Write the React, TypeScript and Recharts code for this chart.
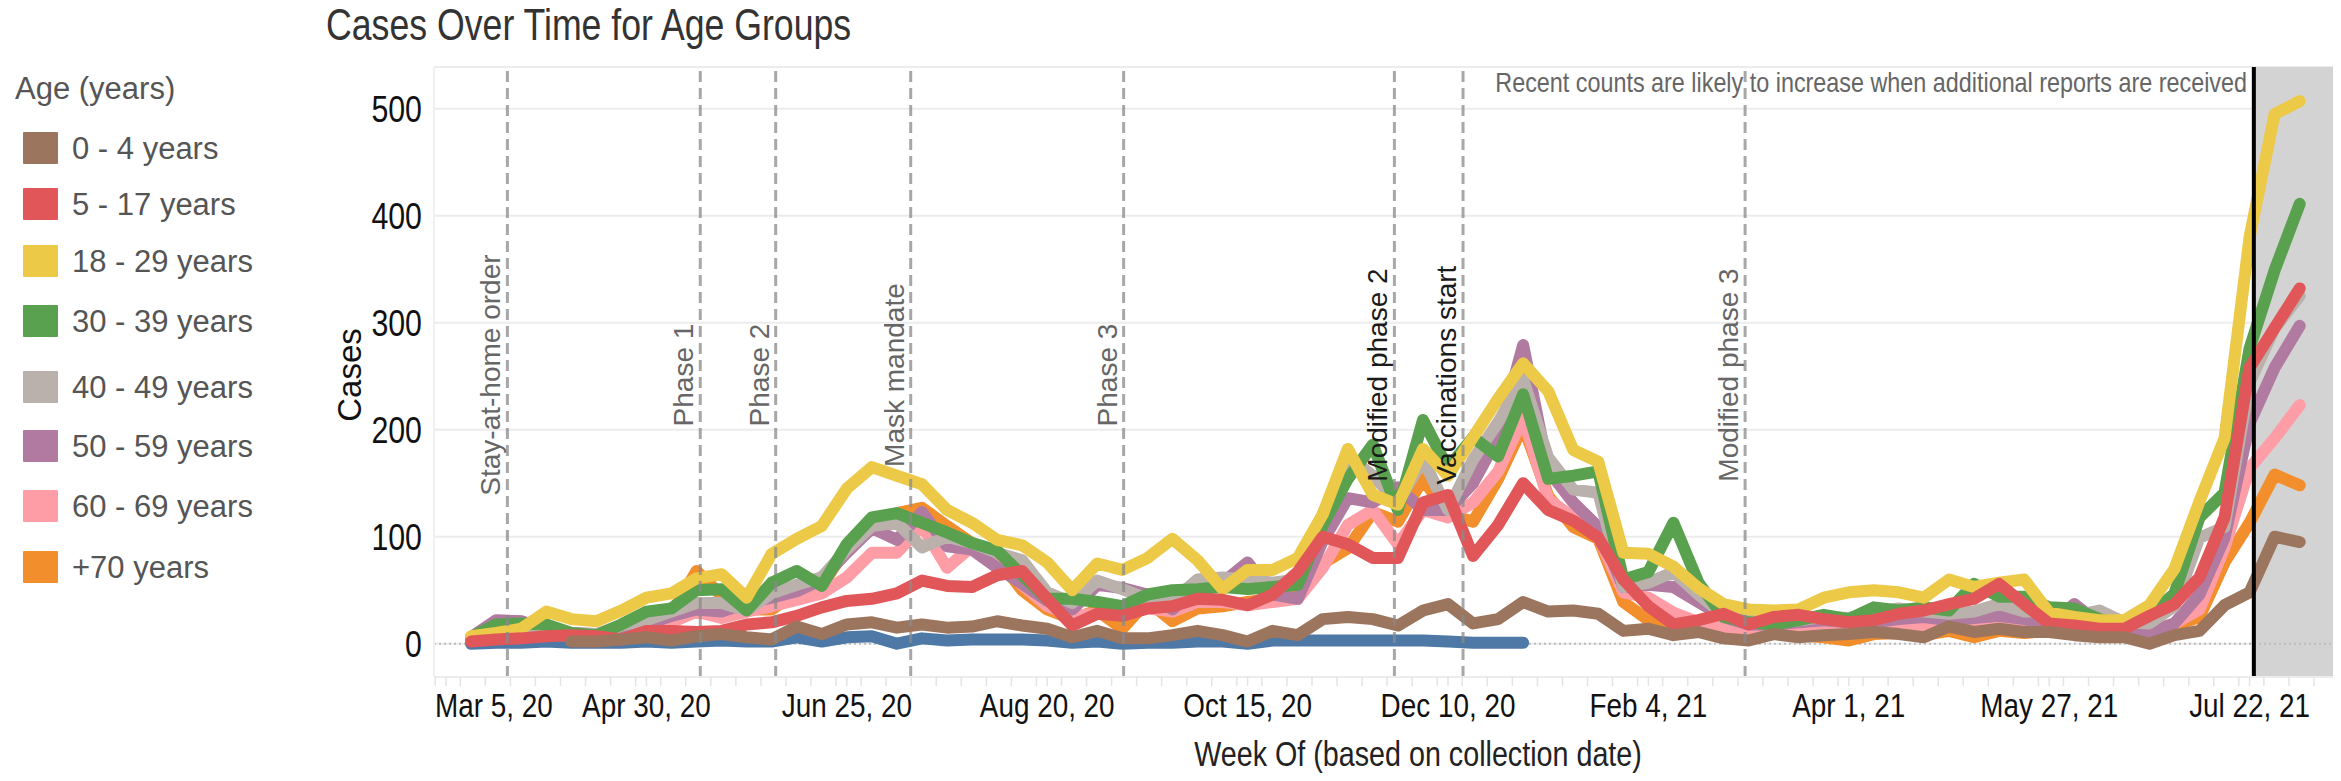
import React from 'react';
import { LineChart, Line, XAxis, YAxis, CartesianGrid, ReferenceLine, ReferenceArea } from 'recharts';

// ---------- data (weeks counted from Mar 5, 2020) ----------
const weeks = [1,2,3,4,5,6,7,8,9,10,11,12,13,14,15,16,17,18,19,20,21,22,23,24,25,26,27,28,29,30,31,32,33,34,35,36,37,38,39,40,41,42,43,44,45,46,47,48,49,50,51,52,53,54,55,56,57,58,59,60,61,62,63,64,65,66,67,68,69,70,71,72,73,74];

const age0to4 = [null,null,null,null,2,2,4,6,3,7, 9,6,4,16,9,18,20,15,18,15, 16,21,17,14,6,12,5,5,8,12, 8,2,12,8,23,25,23,17,31,37, 19,23,39,30,31,28,12,14,8,11, 5,3,9,6,8,9,11,9,6,16, 11,14,11,11,8,6,6,0,8,12, 36,48,100,95];
const age5to17 = [2,4,5,7,8,7,4,12,12,11, 12,18,20,26,34,40,42,47,59,54, 53,64,68,42,17,28,26,33,35,42, 41,36,46,67,100,93,80,80,132,139, 82,111,150,125,115,99,60,35,18,22, 28,18,25,27,23,20,22,28,31,37, 42,56,37,19,17,14,14,26,37,62, 118,258,295,332];
const age18to29 = [7,10,14,30,23,21,31,43,47,61, 65,43,84,98,110,145,165,157,149,125, 113,97,92,76,50,75,69,80,98,78, 51,69,69,80,121,182,139,130,182,157, 193,229,262,236,181,170,85,84,72,52, 37,32,31,32,43,48,50,48,43,60, 53,57,60,29,25,22,22,36,70,133, 192,380,495,507];
const age30to39 = [6,18,19,18,10,8,18,30,33,50, 51,31,57,68,54,93,118,122,113,104, 94,87,64,42,42,39,35,46,50,51, 53,51,53,55,111,154,186,125,209,164, 193,175,233,154,157,161,60,67,113,57, 25,20,18,22,27,23,34,31,34,31, 56,44,44,34,33,23,17,26,47,118, 141,276,349,411];
const age40to49 = [5,10,12,10,9,9,17,22,30,38, 38,31,47,55,62,88,110,113,90,100, 94,85,78,48,38,59,51,42,40,60, 62,60,57,60,121,175,157,132,172,125, 172,207,247,174,144,141,53,57,67,46, 27,22,20,22,25,24,30,33,30,28, 30,37,30,30,26,31,20,19,35,99, 109,244,295,325];
const age50to59 = [6,22,21,14,10,9,12,18,26,32, 30,38,43,49,60,85,108,97,123,91, 88,71,56,40,32,55,52,46,32,53, 57,76,46,42,96,136,132,146,125,125, 150,193,279,162,132,109,53,55,53,39, 25,18,18,20,22,20,20,23,25,22, 24,26,23,17,37,19,14,11,19,46, 99,206,258,297];
const age60to69 = [5,18,21,12,8,6,6,12,20,30, 24,30,35,41,47,62,85,85,110,71, 91,79,55,35,26,28,28,33,30,39, 39,36,39,42,71,111,125,93,125,118, 132,161,211,135,118,100,48,43,29,20, 15,12,12,13,15,13,14,15,16,18, 22,17,19,17,16,14,12,11,19,32, 90,164,192,223];
const age70plus = [4,8,9,10,7,6,10,15,28,68, 45,32,32,48,54,90,108,122,127,110, 94,80,50,32,23,31,14,40,21,33, 35,39,42,46,75,89,123,114,154,121, 114,154,204,138,109,98,39,22,15,13, 10,8,10,8,6,3,9,10,8,12, 6,12,10,12,14,12,10,11,17,25, 76,113,158,148];
const ageUnknown = [0,1,1,2,1,1,1,2,1,2, 3,2,2,6,2,6,7,0,5,3, 4,4,4,3,1,2,0,1,1,2, 2,0,3,3,3,3,3,3,3,2, 1,1,1];

const tickWeeks = [0, 8, 16, 24, 32, 40, 48, 56, 64, 72];
const tickLabels = ['Mar 5, 20', 'Apr 30, 20', 'Jun 25, 20', 'Aug 20, 20', 'Oct 15, 20', 'Dec 10, 20', 'Feb 4, 21', 'Apr 1, 21', 'May 27, 21', 'Jul 22, 21'];
const yTicks = [0, 100, 200, 300, 400, 500];

const eventWeeks = [2.45, 10.15, 13.16, 18.55, 27.05, 37.86, 40.6, 51.86];
const eventLabels = ['Stay-at-home order', 'Phase 1', 'Phase 2', 'Mask mandate', 'Phase 3', 'Modified phase 2', 'Vaccinations start', 'Modified phase 3'];
const eventDark = [false, false, false, false, false, true, true, false];
const recentStartWeek = 72.17;

const seriesNames = ['0 - 4 years', '5 - 17 years', '18 - 29 years', '30 - 39 years', '40 - 49 years', '50 - 59 years', '60 - 69 years', '+70 years'];
const seriesKeys = ['a0', 'a5', 'a18', 'a30', 'a40', 'a50', 'a60', 'a70'];
const seriesColors = ['#9c755f', '#e15759', '#edc948', '#59a14f', '#bab0ac', '#b07aa1', '#ff9da7', '#f28e2b'];
const seriesValues = [age0to4, age5to17, age18to29, age30to39, age40to49, age50to59, age60to69, age70plus];

// ---------- layout ----------
const W = 2341;
const H = 781;
const X_MIN = -0.48;
const X_MAX = 75.33;
const Y_MIN = -31.1;
const Y_MAX = 538.9;
const FONT = "'Liberation Sans', Arial, sans-serif";
const NARROW = 0.82;
const LINE_W = 12;
const legendRowY = [148, 204, 261, 321, 387, 446, 506, 567];

const data = weeks.map((w, i) => {
  const row: any = { w, unk: i < ageUnknown.length ? ageUnknown[i] : null };
  seriesKeys.forEach((k, s) => {
    row[k] = seriesValues[s][i];
  });
  return row;
});

const minorTicks: number[] = [];
for (let k = -1; k <= 75; k++) {
  const v = k + 0.57;
  if (v > X_MIN && v < X_MAX) minorTicks.push(v);
}
const allXTicks = [...tickWeeks, ...minorTicks].sort((a, b) => a - b);

const NText = ({ x, y, size, anchor = 'start', fill = '#222', baseline, children }: any) => (
  <text
    transform={`translate(${x},${y}) scale(${NARROW},1)`}
    fontFamily={FONT}
    fontSize={size}
    textAnchor={anchor}
    fill={fill}
    dominantBaseline={baseline}
  >
    {children}
  </text>
);

const XTick = (props: any) => {
  const { x, y, payload } = props;
  const v = payload.value;
  const idx = tickWeeks.findIndex((t) => Math.abs(t - v) < 1e-6);
  return (
    <g>
      <line x1={x} x2={x} y1={y} y2={y + 9} stroke="#e4e4e4" strokeWidth={1.5} />
      {idx >= 0 && (
        <NText x={idx === 0 ? x - 11 : x} y={y + 40} size={34} anchor={idx === 0 ? 'start' : 'middle'} fill="#111">
          {tickLabels[idx]}
        </NText>
      )}
    </g>
  );
};

const YTick = (props: any) => {
  const { x, y, payload } = props;
  return (
    <NText x={x} y={y} size={37} anchor="end" fill="#111" baseline="central">
      {payload.value}
    </NText>
  );
};

const EventLabel = (props: any) => {
  const { viewBox, text, dark } = props;
  if (!viewBox) return null;
  const x = viewBox.x - 7;
  const y = viewBox.y + viewBox.height * 0.505;
  return (
    <text
      x={x}
      y={y}
      transform={`rotate(-90 ${x} ${y})`}
      textAnchor="middle"
      fontFamily={FONT}
      fontSize={28}
      fill={dark ? '#1a1a1a' : '#666'}
    >
      {text}
    </text>
  );
};

const drawOrder = [7, 6, 5, 4, 3, 2, 1, 0];

export default function App() {
  return (
    <div style={{ position: 'absolute', left: 0, top: 0, width: W, height: H, background: '#fff' }}>
      <LineChart width={W} height={H} data={data} margin={{ top: 67, right: 8, bottom: 0, left: 334 }}>
        <ReferenceArea x1={recentStartWeek} x2={X_MAX} fill="#d3d3d3" fillOpacity={1} stroke="none" ifOverflow="hidden" />
        <CartesianGrid vertical={false} stroke="#ececec" strokeWidth={2} />
        <XAxis
          dataKey="w"
          type="number"
          domain={[X_MIN, X_MAX]}
          ticks={allXTicks}
          interval={0}
          allowDataOverflow
          height={104}
          tickSize={0}
          tickMargin={0}
          tickLine={false}
          axisLine={{ stroke: '#ececec', strokeWidth: 2 }}
          tick={<XTick />}
        />
        <YAxis
          type="number"
          domain={[Y_MIN, Y_MAX]}
          ticks={yTicks}
          allowDataOverflow
          width={100}
          tickSize={0}
          tickMargin={12}
          tickLine={false}
          axisLine={{ stroke: '#f0f0f0', strokeWidth: 2 }}
          tick={<YTick />}
        />
        <ReferenceLine y={0} stroke="#bdbdbd" strokeWidth={2} strokeDasharray="2 3" />
        <Line
          dataKey="unk"
          stroke="#4e79a7"
          strokeWidth={LINE_W}
          dot={false}
          activeDot={false}
          isAnimationActive={false}
          strokeLinecap="round"
          strokeLinejoin="round"
        />
        {drawOrder.map((s) => (
          <Line
            key={seriesKeys[s]}
            dataKey={seriesKeys[s]}
            name={seriesNames[s]}
            stroke={seriesColors[s]}
            strokeWidth={LINE_W}
            dot={false}
            activeDot={false}
            isAnimationActive={false}
            strokeLinecap="round"
            strokeLinejoin="round"
          />
        ))}
        {eventWeeks.map((w, i) => (
          <ReferenceLine
            key={eventLabels[i]}
            x={w}
            stroke="#8a8a8a"
            strokeOpacity={0.75}
            strokeWidth={3}
            strokeDasharray="11 6"
            label={<EventLabel text={eventLabels[i]} dark={eventDark[i]} />}
          />
        ))}
        <ReferenceLine x={recentStartWeek} stroke="#000" strokeWidth={4} />
      </LineChart>
      <svg width={W} height={H} style={{ position: 'absolute', left: 0, top: 0, pointerEvents: 'none' }}>
        <NText x={326} y={40} size={43.5} fill="#333">Cases Over Time for Age Groups</NText>
        <text x={15} y={99} fontFamily={FONT} fontSize={31} fill="#555">Age (years)</text>
        {seriesNames.map((n, i) => (
          <g key={n}>
            <rect x={23} y={legendRowY[i] - 16} width={35} height={32} fill={seriesColors[i]} rx={1} />
            <text x={72} y={legendRowY[i] + 11} fontFamily={FONT} fontSize={31} fill="#555">{n}</text>
          </g>
        ))}
        <text x={361} y={375} transform="rotate(-90 361 375)" textAnchor="middle" fontFamily={FONT} fontSize={33} fill="#111">Cases</text>
        <NText x={1418} y={766} size={35} anchor="middle" fill="#222">Week Of (based on collection date)</NText>
        <NText x={2247} y={92} size={28.5} anchor="end" fill="#666">Recent counts are likely to increase when additional reports are received</NText>
      </svg>
    </div>
  );
}
